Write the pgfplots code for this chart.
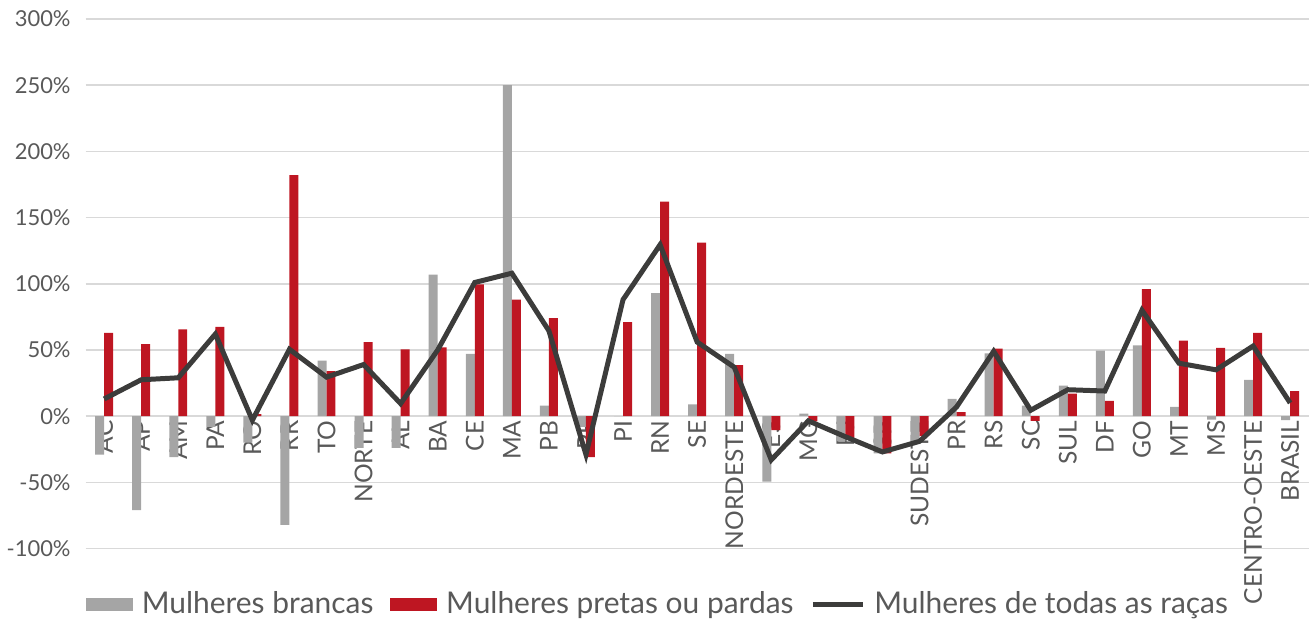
\documentclass[border=0pt]{standalone}
\usepackage{pgfplots}
\pgfplotsset{compat=1.18}
\usepackage{pgfplotstable}
\usepackage{fontspec}
\setmainfont{Lato}
\definecolor{cgray}{HTML}{A5A5A5}
\definecolor{cred}{HTML}{BE1622}
\definecolor{cline}{HTML}{3C3C3B}
\definecolor{ctext}{HTML}{595959}
\definecolor{cgrid}{HTML}{D9D9D9}
\pgfplotstableread{
x g r t
0 -29 63 13
1 -71 54.5 27.5
2 -31 65.5 29
3 -8 67.5 62
4 -20 1.5 -3
5 -82 182 50.5
6 42 34 29.5
7 -24 56 39
8 -24 50.5 9.5
9 107 52 50
10 47 99.5 101
11 250 88 108
12 8 74 64.5
13 -8 -31 -29
14 0 71 88
15 93 162 129.5
16 9 131 56
17 47 38.5 37
18 -49.5 -10.5 -33
19 2 -4 -3.5
20 -19 -17 -15.5
21 -28 -28 -27
22 -19 -15 -19
23 13 3 7
24 47.5 51 49
25 8 -3.5 4.5
26 23 17 20
27 49.5 11.5 19
28 53.5 96 80
29 7 57 40
30 -2.5 51.5 35
31 27.5 63 53
32 -3 19 10
}\datatable
\begin{document}
\begin{tikzpicture}
\begin{axis}[
  name=ax,
  scale only axis,
  width=613.1pt, height=265.5pt,
  xmin=-0.5, xmax=32.5,
  ymin=-100, ymax=300,
  axis x line=middle,
  axis y line=left,
  axis line style={draw=none},
  ytick={-100,-50,...,300},
  ymajorgrids,
  grid style={cgrid, line width=0.8pt},
  major tick length=0pt,
  xtick={0,...,32},
  xticklabels={AC,AP,AM,PA,RO,RR,TO,NORTE,AL,BA,CE,MA,PB,PE,PI,RN,SE,NORDESTE,ES,MG,RJ,SP,SUDESTE,PR,RS,SC,SUL,DF,GO,MT,MS,CENTRO-OESTE,BRASIL},
  xticklabel style={rotate=90, anchor=east, font=\fontsize{12.3}{14}\selectfont, text=ctext, inner sep=2pt},
  yticklabel style={font=\fontsize{11}{13}\selectfont, text=ctext, xshift=-4pt},
  yticklabel={\pgfmathprintnumber{\tick}\%},
  /pgf/number format/assume math mode=true,
  legend style={at={(0,0)}, anchor=west, yshift=-28pt, draw=none, fill=none,
    font=\fontsize{15}{17}\selectfont, text=ctext, inner xsep=0pt,
    nodes={inner xsep=4.5pt},
    /tikz/every even column/.append style={column sep=4pt}},
  legend columns=-1,
  clip=false,
]
\addplot[ybar, bar width=4.5pt, bar shift=-2.25pt, fill=cgray, draw=none,
  legend image code/.code={\fill[cgray] (0pt,-3.3pt) rectangle (23.5pt,3.3pt);}]
  table[x=x, y=g] {\datatable};
\addlegendentry{Mulheres brancas}
\addplot[ybar, bar width=4.5pt, bar shift=2.25pt, fill=cred, draw=none,
  legend image code/.code={\fill[cred] (0pt,-3.3pt) rectangle (23.5pt,3.3pt);}]
  table[x=x, y=r] {\datatable};
\addlegendentry{Mulheres pretas ou pardas}
\addplot[sharp plot, no marks, cline, line width=2.5pt,
  legend image code/.code={\draw[cline, line width=2.5pt] (0pt,0pt) -- (25pt,0pt);}]
  table[x=x, y=t] {\datatable};
\addlegendentry{Mulheres de todas as raças}
\end{axis}
\path ([xshift=-41.25pt,yshift=-34pt]ax.south west) rectangle ([xshift=614.75pt,yshift=275pt]ax.south west);
\end{tikzpicture}
\end{document}
